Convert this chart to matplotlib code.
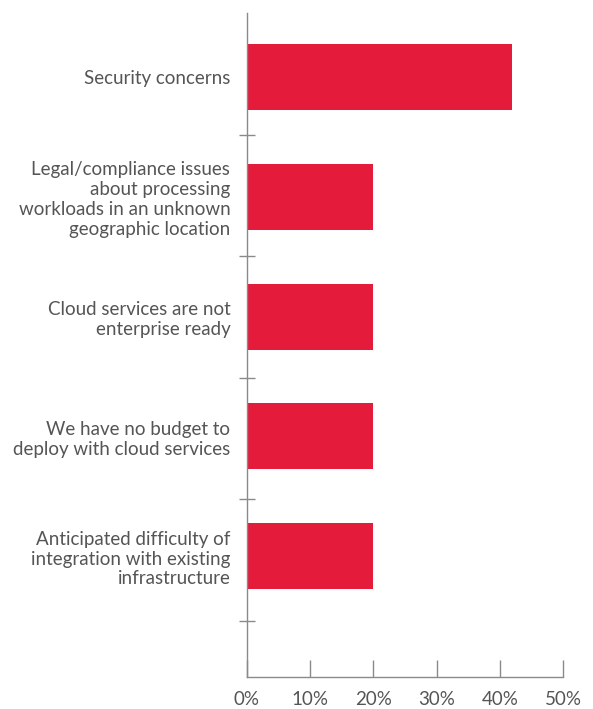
import numpy as np
import matplotlib.pyplot as plt

categories = [
    "Security concerns",
    "Legal/compliance issues\nabout processing\nworkloads in an unknown\ngeographic location",
    "Cloud services are not\nenterprise ready",
    "We have no budget to\ndeploy with cloud services",
    "Anticipated difficulty of\nintegration with existing\ninfrastructure",
]
values = [42, 20, 20, 20, 20]
xticks = [0, 10, 20, 30, 40, 50]

bar_color = "#E41B3A"
axis_color = "#8a8a8a"
text_color = "#555555"

plt.rcParams['font.family'] = ['Lato', 'DejaVu Sans']

fig = plt.figure(figsize=(5.93, 7.09), dpi=100)
ax = fig.add_axes([0.4165, 0.0451, 0.5329, 0.9366])

# bars sit slightly tighter than the separator ticks
n = len(categories)
y = 0.026 + 0.985 * np.arange(n)
ax.barh(y, values, height=0.543, color=bar_color)

ax.set_xlim(0, 50)
ax.set_ylim(4.96, -0.5)

ax.set_xticks(xticks)
ax.set_xticklabels([f"{v}%" for v in xticks])
ax.set_yticks(y)
ax.set_yticklabels(categories)
ax.set_yticks(np.arange(n) + 0.5, minor=True)

for s in ["top", "right"]:
    ax.spines[s].set_visible(False)
for s in ["left", "bottom"]:
    ax.spines[s].set_color(axis_color)
    ax.spines[s].set_linewidth(1.0)

ax.tick_params(axis="y", which="major", length=0, pad=12,
               labelsize=13.5, labelcolor=text_color)
ax.tick_params(axis="y", which="minor", direction="inout", length=12,
               width=1.0, color=axis_color)
ax.tick_params(axis="x", direction="in", length=12, width=1.0,
               color=axis_color, pad=10, labelsize=13.5, labelcolor=text_color)

for lbl in ax.get_yticklabels():
    lbl.set_multialignment("right")

fig.savefig("out.png", dpi=100)
